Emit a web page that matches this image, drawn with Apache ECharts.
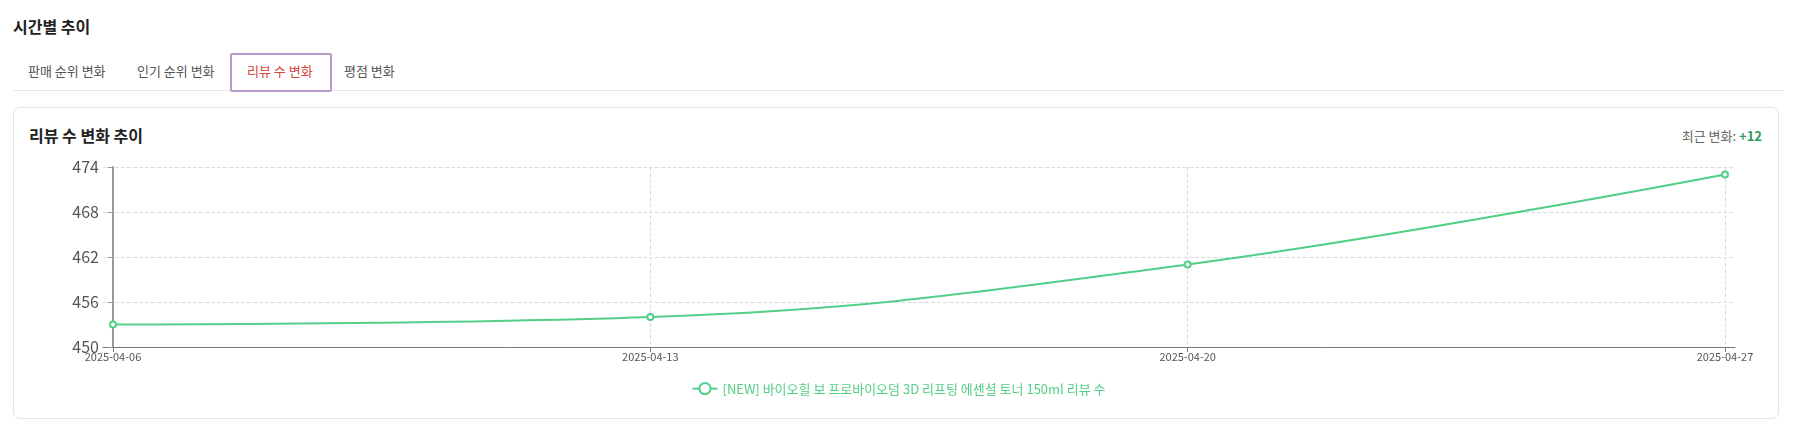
<!DOCTYPE html>
<html><head><meta charset="utf-8">
<script src="https://cdn.jsdelivr.net/npm/echarts@6/dist/echarts.min.js"></script>
<style>
body{margin:0;width:1797px;height:439px;background:#fff;font-family:"Noto Sans CJK KR","Noto Sans",sans-serif;position:relative;overflow:hidden}
.abs{position:absolute;white-space:nowrap}
#h{left:13px;top:14px;font-size:16px;font-weight:bold;color:#222}
.tab{top:61px;font-size:13px;color:#555}
#act{left:230px;top:53px;width:98px;height:35px;border:2px solid #b79ac9;border-radius:2px;box-sizing:content-box}
#line{left:13px;top:90px;width:1771px;height:1px;background:#e6e6e6}
#card{left:13px;top:107px;width:1764px;height:310px;border:1px solid #e3e3e3;border-radius:7px}
#ct{left:29px;top:123px;font-size:16px;font-weight:bold;color:#222}
#rc{right:35px;top:126px;font-size:13px;color:#666}
#main{position:absolute;left:0;top:0;width:1797px;height:439px}
</style></head><body>
<div class="abs" id="h">시간별 추이</div>
<div class="abs" id="line"></div>
<div class="abs" id="act"></div>
<div class="abs tab" style="left:28px">판매 순위 변화</div>
<div class="abs tab" style="left:137px">인기 순위 변화</div>
<div class="abs tab" style="left:247px;color:#d9453d">리뷰 수 변화</div>
<div class="abs tab" style="left:344px">평점 변화</div>
<div class="abs" id="card"></div>
<div class="abs" id="ct">리뷰 수 변화 추이</div>
<div class="abs" id="rc">최근 변화: <span style="color:#2f9a5a;font-weight:bold">+12</span></div>
<div id="main"></div>
<script>
var dates = ['2025-04-06', '2025-04-13', '2025-04-20', '2025-04-27'];
var reviews = [453, 454, 461, 473];
var seriesName = '[NEW] 바이오힐 보 프로바이오덤 3D 리프팅 에센셜 토너 150ml 리뷰 수';
var lineColor = '#52cf86';

var chart = echarts.init(document.getElementById('main'));
var pad = 0.0186;
option = {
    animation: false,
    textStyle: {fontFamily: '"Noto Sans CJK KR", "Noto Sans", sans-serif'},
    legend: {
        data: [seriesName],
        top: 377,
        left: 'center',
        textStyle: {color: lineColor, fontSize: 13}
    },
    grid: {left: 103, top: 167, right: 62, bottom: 92},
    xAxis: {
        type: 'value',
        min: -pad,
        max: dates.length - 1 + pad,
        axisLine: {lineStyle: {color: '#777'}},
        axisTick: {customValues: [0, 1, 2, 3], lineStyle: {color: '#777'}},
        axisLabel: {
            customValues: [0, 1, 2, 3],
            fontSize: 11,
            color: '#555',
            margin: 4,
            formatter: function (v) { return dates[Math.round(v)]; }
        },
        splitLine: {show: true, lineStyle: {type: 'dashed', color: '#ddd'}}
    },
    yAxis: {
        type: 'value',
        min: 450,
        max: 474,
        interval: 6,
        axisLine: {show: true, lineStyle: {color: '#999', width: 2}},
        axisTick: {show: true, lineStyle: {color: '#999'}},
        axisLabel: {fontSize: 16, color: '#555', margin: 4},
        splitLine: {lineStyle: {type: 'dashed', color: '#ddd'}}
    },
    series: [{
        name: seriesName,
        type: 'line',
        smooth: 0.4,
        symbol: 'circle',
        symbolSize: 6,
        itemStyle: {color: '#fff', borderColor: lineColor, borderWidth: 2},
        lineStyle: {color: lineColor, width: 2},
        data: reviews.map(function (v, i) { return [i, v]; })
    }]
};
chart.setOption(option);
</script>
</body></html>
